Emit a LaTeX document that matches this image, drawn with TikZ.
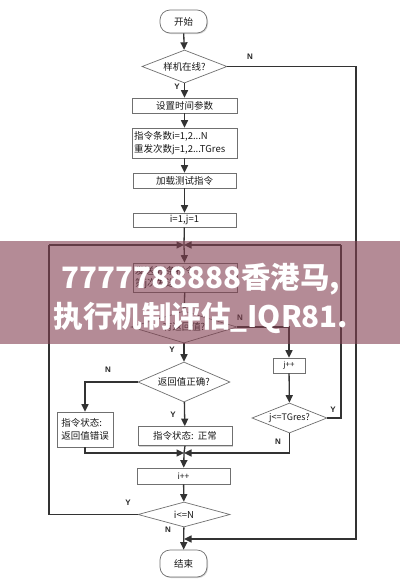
\documentclass[tikz,border=0pt]{standalone}
\usepackage{fontspec}
\setmainfont{Noto Sans CJK SC}
\newfontfamily\latf{Liberation Sans}
\usetikzlibrary{shapes.geometric,arrows.meta,shadows}
\definecolor{lncol}{HTML}{333333}
\definecolor{bdcol}{HTML}{707070}
\definecolor{bandcol}{RGB}{130,63,80}
\begin{document}
\begin{tikzpicture}[x=1pt,y=-1pt,
  box/.style={draw=bdcol,line width=0.7pt,fill=white,inner sep=0pt,
    font=\fontsize{9.5}{12.5}\selectfont,text=black!90,
    drop shadow={shadow xshift=1pt,shadow yshift=-1pt,fill=black!35,opacity=0.5}},
  dia/.style={diamond,draw=bdcol,line width=0.7pt,fill=white,inner sep=0pt,
    font=\fontsize{9.5}{12}\selectfont,text=black!90,aspect=2.6},
  term/.style={box,rounded corners=10pt},
  conn/.style={draw=lncol,line width=1.3pt},
  arr/.style={conn,-{Triangle[length=7.5pt,width=7pt]}},
  lab/.style={font=\latf\bfseries\fontsize{8}{9}\selectfont,text=black!85,inner sep=0pt}]
\useasboundingbox (0,0) rectangle (400,587);
\fill[white] (0,0) rectangle (400,587);

% nodes
\node[term,minimum width=47pt,minimum height=23pt] (start) at (183.5,21.5) {开始};
\node[dia,minimum width=85pt,minimum height=33pt] (d1) at (184.5,66.5) {样机在线?};
\node[box,minimum width=105pt,minimum height=15pt] (b1) at (184.5,105.5) {设置时间参数};
\node[box,minimum width=105pt,minimum height=30pt,text width=101pt,align=left] (b2) at (184.5,143) {指令条数i=1,2...N\\重发次数j=1,2...TGres};
\node[box,minimum width=103pt,minimum height=15pt] (b3) at (184.5,180.5) {加载测试指令};
\node[box,minimum width=103pt,minimum height=14pt] (b4) at (184.5,220) {i=1,j=1};
\node[box,minimum width=104pt,minimum height=29pt,text width=100pt,align=left] (b5) at (185,277.5) {发送第i条指令\\第j次发送};
\node[dia,minimum width=106pt,minimum height=32pt] (d2) at (184,327) {有返回值?};
\node[dia,minimum width=92pt,minimum height=40pt] (d3) at (184,382) {返回值正确?};
\node[box,minimum width=56pt,minimum height=35pt,align=left] (b6) at (85,429.5) {指令状态:\\返回值错误};
\node[box,minimum width=94pt,minimum height=19pt] (b7) at (185,436) {指令状态:\ \ 正常};
\node[box,minimum width=32pt,minimum height=15pt,font=\fontsize{8}{10}\selectfont] (jpp) at (289,365.5) {j++};
\node[dia,minimum width=75pt,minimum height=30pt,font=\fontsize{9}{11}\selectfont] (d4) at (289.5,418) {j<=TGres?};
\node[box,minimum width=93pt,minimum height=16pt,font=\fontsize{8.5}{10}\selectfont] (b8) at (183.5,476) {i++};
\node[dia,minimum width=92pt,minimum height=25pt,aspect=3.5] (d5) at (184,514.5) {i<=N};
\node[term,minimum width=47pt,minimum height=27pt] (end) at (183.5,563.5) {结束};

% helper coordinates
\coordinate (m1) at (184,245);
\coordinate (m2) at (184,453);
\coordinate (lt) at (49,245);
\coordinate (rt) at (341,245);
\coordinate (ob) at (356,539);
\coordinate (oe) at (184,539);

% connectors
\draw[arr] (start) -- (d1);
\draw[arr] (d1) -- (b1);
\draw[arr] (b1) -- (b2);
\draw[arr] (b2) -- (b3);
\draw[arr] (b3) -- (b4);
\draw[conn] (b4) -- (m1);
\draw[arr] (m1) -- (b5);
\draw[arr] (lt) -- (m1);
\draw[arr] (rt) -- (m1);
\draw[arr] (b5) -- (d2);
\draw[arr] (d2.east) -| (jpp.north);
\draw[arr] (d2) -- (d3);
\draw[arr] (d3.west) -| (b6.north);
\draw[arr] (d3) -- (b7);
\draw[arr] (b6.south) |- (m2);
\draw[conn] (b7.south) -- (m2);
\draw[arr] (d4.south) |- (m2);
\draw[arr] (jpp) -- (d4);
\draw[conn] (d4.east) -| (rt);
\draw[arr] (m2) -- (b8);
\draw[arr] (b8) -- (d5);
\draw[arr] (d5) -- (end);
\draw[conn] (d5.west) -| (lt);
\draw[arr] (d1.east) -| (ob) -- (oe);

% labels
\node[lab] (ly1) at (177,87) {Y};
\node[lab] (ln1) at (250,57) {N};
\node[lab] (ln2) at (240,318) {N};
\node[lab] (ly2) at (172,350) {Y};
\node[lab] (ln3) at (108,370) {N};
\node[lab] (ly3) at (173,415) {Y};
\node[lab] (ly4) at (333,410) {Y};
\node[lab] (ln4) at (278,442) {N};
\node[lab] (ly5) at (128,503) {Y};
\node[lab] (ln5) at (168,530) {N};

% overlay band
\fill[bandcol,fill opacity=0.6] (0,241) rectangle (400,344);
\node[font=\bfseries\fontsize{29.5}{36}\selectfont,text=white,inner sep=0pt] (t1) at (201,279) {7777788888香港马,};
\node[font=\bfseries\fontsize{29.5}{36}\selectfont,text=white,inner sep=0pt] (t2) at (201,318) {执行机制评估\_IQR81.};
\end{tikzpicture}
\end{document}
